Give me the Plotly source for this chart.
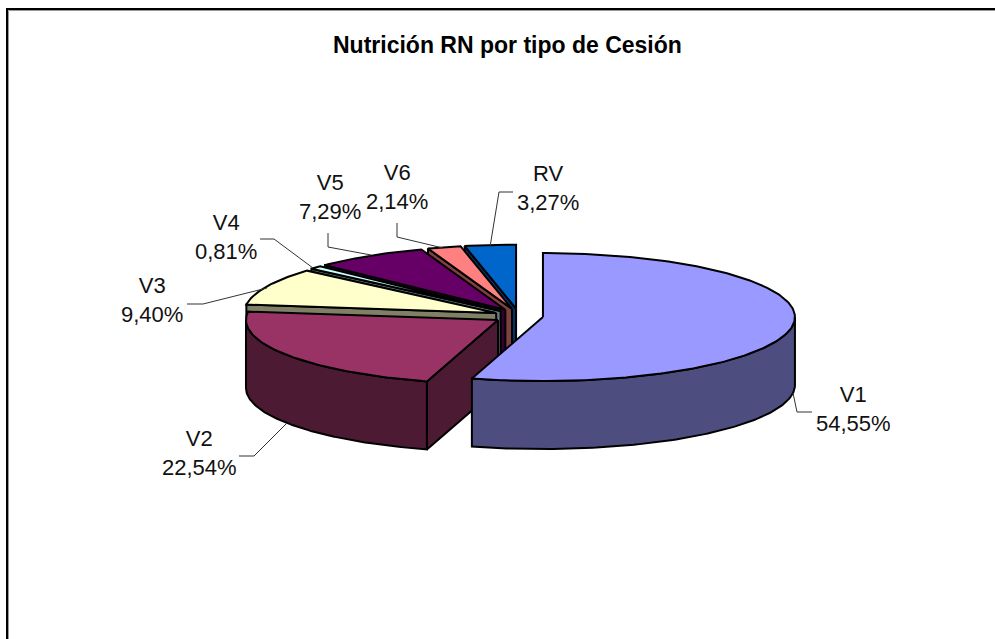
import numpy as np
import plotly.graph_objects as go

categories = ["V1", "V2", "V3", "V4", "V5", "V6", "RV"]
percentages = [54.55, 22.54, 9.40, 0.81, 7.29, 2.14, 3.27]
top_colors = ["#9999FF", "#993366", "#FFFFCC", "#CCFFFF", "#660066", "#FF8080", "#0066CC"]
side_colors = ["#4D4D80", "#4D1A33", "#808066", "#668080", "#330033", "#804040", "#003366"]
chart_title = "Nutrición RN por tipo de Cesión"

# geometry of the projected pie, in page pixels
CX, CY, A, B, DEPTH, EXPLODE = 518.6, 316.0, 252.0, 64.0, 68.0, 24.6
YSQUASH = 0.30

# label centres and leader lines, in page pixels
label_pos = [(853, 409), (199, 453), (152, 300), (226, 237), (330, 197), (397, 187), (548, 188)]
leaders = [
    [(793, 393), (797, 412), (812, 412)],
    [(287, 423), (254, 456), (239, 456)],
    [(267, 288), (203, 304), (187, 304)],
    [(313, 268), (274, 239), (260, 239)],
    [(371, 255), (328, 247), (328, 233)],
    [(443, 248), (397, 237), (397, 223)],
    [(490, 247), (499, 192), (513, 192)],
]

shares = np.array(percentages) / sum(percentages) * 2 * np.pi
ends = np.cumsum(shares)
starts = ends - shares


def pt(cx, cy, t):
    return cx + A * np.sin(t), cy - B * np.cos(t)


fig = go.Figure()


def poly(xs, ys, color, lw=2):
    fig.add_trace(go.Scatter(
        x=list(xs), y=list(ys), mode="lines", fill="toself", fillcolor=color,
        line=dict(color="black", width=lw), hoverinfo="skip", showlegend=False))


for i in reversed(range(len(categories))):
    s, e = starts[i], ends[i]
    m = (s + e) / 2
    cx = CX + EXPLODE * np.sin(m)
    cy = CY - EXPLODE * YSQUASH * np.cos(m)
    # start cut face (visible for slices on the left half)
    if s > np.pi:
        x0, y0 = pt(cx, cy, s)
        poly([cx, x0, x0, cx, cx], [cy, y0, y0 + DEPTH, cy + DEPTH, cy], side_colors[i])
    # outer wall: front half of the rim only
    a0, a1 = max(s, np.pi / 2), min(e, 3 * np.pi / 2)
    if a1 > a0:
        t = np.linspace(a0, a1, 120)
        x, y = pt(cx, cy, t)
        poly(np.r_[x, x[::-1], x[0]], np.r_[y, y[::-1] + DEPTH, y[0]], side_colors[i])
    # top face
    t = np.linspace(s, e, max(8, int((e - s) * 60)))
    x, y = pt(cx, cy, t)
    poly(np.r_[cx, x, cx], np.r_[cy, y, cy], top_colors[i])

for seg in leaders:
    fig.add_trace(go.Scatter(
        x=[p[0] for p in seg], y=[p[1] for p in seg], mode="lines",
        line=dict(color="#333333", width=1), hoverinfo="skip", showlegend=False))

fmt = [f"{c}<br>{str(f'{v:.2f}').replace('.', ',')}%" for c, v in zip(categories, percentages)]
for (lx, ly), txt in zip(label_pos, fmt):
    fig.add_annotation(x=lx, y=ly, text=txt, showarrow=False, xanchor="center", yanchor="middle",
                       font=dict(family="Liberation Sans", size=22, color="#111111"))

fig.add_annotation(x=507, y=45, text=f"<b>{chart_title}</b>", showarrow=False,
                   xanchor="center", yanchor="middle",
                   font=dict(family="Liberation Sans", size=23, color="black"))

fig.add_shape(type="rect", x0=8.5, y0=10.5, x1=1010, y1=650, line=dict(color="#999999", width=1),
              fillcolor="rgba(0,0,0,0)", layer="above")
fig.add_shape(type="rect", x0=7, y0=9, x1=1010, y1=650, line=dict(color="black", width=2),
              fillcolor="rgba(0,0,0,0)", layer="above")

fig.update_layout(
    width=995, height=639, margin=dict(l=0, r=0, t=0, b=0),
    paper_bgcolor="white", plot_bgcolor="white", showlegend=False,
    xaxis=dict(range=[0, 995], visible=False, fixedrange=True),
    yaxis=dict(range=[639, 0], visible=False, fixedrange=True),
)
fig.write_html("out.html", config={"displayModeBar": False},
               post_script="document.body.style.margin='0';document.documentElement.style.overflow='hidden';")
